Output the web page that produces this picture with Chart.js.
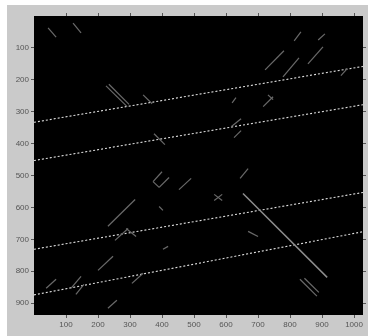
<!DOCTYPE html>
<html lang="en">
<head>
  <meta charset="UTF-8" />
  <title>Hough lines</title>
  <script src="https://cdn.jsdelivr.net/npm/chart.js"></script>
  <style>
    body { margin: 0; background: #fff; width: 368px; height: 336px; overflow: hidden; }
    #frame { position: absolute; left: 7px; top: 5px; width: 361px; height: 331px; background: #cacaca; }
    canvas { display: block; }
  </style>
</head>
<body>
<div id="frame"><canvas id="chart" width="361" height="331"></canvas></div>
<script>
// axis ticks
const xTicks = [100, 200, 300, 400, 500, 600, 700, 800, 900, 1000];
const yTicks = [100, 200, 300, 400, 500, 600, 700, 800, 900];
const imgWidth = 1028;
const imgHeight = 937;

// detected long lines: y at x=0 and y at right edge
const houghLeftY = [333, 453, 731, 874];
const houghRightY = [158, 278, 553, 676];

// short edge segments [x1, y1, x2, y2]
const edgeSegments = [
  [44, 37, 69, 66], [122, 22, 147, 53],
  [225, 219, 291, 284], [234, 214, 297, 277],
  [341, 247, 369, 275], [375, 369, 409, 403],
  [722, 169, 781, 109], [778, 191, 828, 131],
  [813, 78, 834, 50], [888, 75, 909, 56],
  [856, 150, 903, 97], [959, 187, 978, 166],
  [716, 284, 747, 253], [731, 247, 747, 262],
  [619, 272, 631, 256], [616, 347, 647, 322],
  [625, 381, 647, 359], [372, 519, 400, 488],
  [391, 537, 422, 506], [372, 519, 391, 537],
  [453, 544, 491, 509], [391, 597, 403, 609],
  [231, 659, 316, 575], [253, 703, 294, 666],
  [288, 666, 319, 691], [403, 731, 419, 722],
  [306, 838, 341, 806], [200, 797, 247, 753],
  [38, 853, 69, 825], [116, 853, 147, 816],
  [131, 872, 156, 841], [231, 916, 259, 891],
  [831, 825, 884, 878], [845, 822, 890, 866],
  [563, 559, 588, 578], [563, 578, 588, 559],
  [644, 509, 669, 478], [669, 675, 700, 691]
];
const mainDiagonal = [653, 556, 916, 819];

const datasets = [];
edgeSegments.forEach(s => {
  datasets.push({
    data: [{ x: s[0], y: s[1] }, { x: s[2], y: s[3] }],
    borderColor: '#6a6a6a', borderWidth: 1.2, showLine: true, pointRadius: 0
  });
});
datasets.push({
  data: [{ x: mainDiagonal[0], y: mainDiagonal[1] }, { x: mainDiagonal[2], y: mainDiagonal[3] }],
  borderColor: '#8c8c8c', borderWidth: 1.5, showLine: true, pointRadius: 0
});
houghLeftY.forEach((y0, i) => {
  datasets.push({
    data: [{ x: 0, y: y0 }, { x: imgWidth, y: houghRightY[i] }],
    borderColor: '#e0e0e0', borderWidth: 1.1, borderDash: [2, 2],
    showLine: true, pointRadius: 0
  });
});

const blackPlot = {
  id: 'blackPlot',
  beforeDatasetsDraw(chart) {
    const a = chart.chartArea;
    chart.ctx.save();
    chart.ctx.fillStyle = '#000';
    chart.ctx.fillRect(a.left, a.top, a.right - a.left, a.bottom - a.top);
    chart.ctx.restore();
  }
};

const tickFont = { family: 'Liberation Sans', size: 8 };
const gridOpts = { drawOnChartArea: false, tickLength: 3, color: '#555' };
const plainLabel = v => String(v);

new Chart(document.getElementById('chart'), {
  type: 'scatter',
  data: { datasets },
  options: {
    responsive: false,
    animation: false,
    devicePixelRatio: 1,
    layout: { padding: 0 },
    plugins: { legend: { display: false }, tooltip: { enabled: false } },
    scales: {
      x: {
        type: 'linear', position: 'bottom', min: 0, max: imgWidth,
        afterBuildTicks: s => { s.ticks = xTicks.map(v => ({ value: v })); },
        afterFit: s => { s.height = 21; },
        ticks: { font: tickFont, color: '#555', padding: 2, autoSkip: false, maxRotation: 0, callback: plainLabel },
        grid: gridOpts, border: { display: false }
      },
      x2: {
        type: 'linear', position: 'top', min: 0, max: imgWidth,
        afterBuildTicks: s => { s.ticks = xTicks.map(v => ({ value: v })); },
        afterFit: s => { s.height = 11; },
        ticks: { display: false },
        grid: gridOpts, border: { display: false }
      },
      y: {
        type: 'linear', position: 'left', min: 0, max: imgHeight, reverse: true,
        afterBuildTicks: s => { s.ticks = yTicks.map(v => ({ value: v })); },
        afterFit: s => { s.width = 27; },
        ticks: { font: tickFont, color: '#555', padding: 2, autoSkip: false, callback: plainLabel },
        grid: gridOpts, border: { display: false }
      },
      y2: {
        type: 'linear', position: 'right', min: 0, max: imgHeight, reverse: true,
        afterBuildTicks: s => { s.ticks = yTicks.map(v => ({ value: v })); },
        afterFit: s => { s.width = 5; },
        ticks: { display: false },
        grid: gridOpts, border: { display: false }
      }
    }
  },
  plugins: [blackPlot]
});
</script>
</body>
</html>
